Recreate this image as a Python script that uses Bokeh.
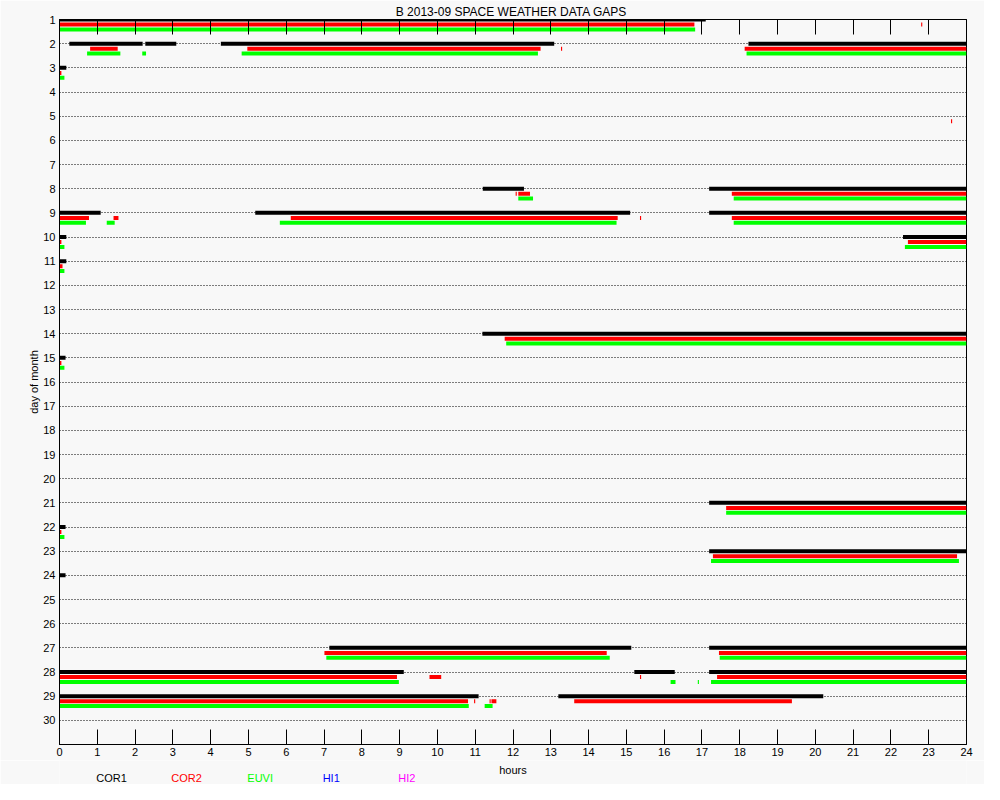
from bokeh.plotting import figure
from bokeh.models import Range1d, FixedTicker, LinearAxis, ColumnDataSource
from bokeh.layouts import column
from bokeh.core.properties import value
from bokeh.embed import file_html
from bokeh.resources import INLINE

# ---------------- data ----------------
days = list(range(1, 31))
hours = list(range(0, 25))

# COR1 gaps (black)
cor1_day = [1, 2, 2, 2, 2, 3, 8, 8, 9, 9, 9, 10, 10, 11, 14, 15, 21, 22, 23, 24,
            27, 27, 28, 28, 28, 29, 29]
cor1_start = [0.0, 0.26, 2.27, 4.27, 18.23, 0.0, 11.20, 17.19, 0.0, 5.18, 17.19, 0.0, 22.32, 0.0,
              11.19, 0.0, 17.19, 0.0, 17.19, 0.0, 7.14, 17.19, 0.0, 15.21, 17.19, 0.0, 13.20]
cor1_end = [17.10, 2.20, 3.09, 13.09, 24.0, 0.18, 12.29, 24.0, 1.09, 15.10, 24.0, 0.18, 24.0, 0.18,
            24.0, 0.16, 24.0, 0.16, 24.0, 0.16, 15.13, 24.0, 9.11, 16.28, 24.0, 11.09, 20.21]

# COR2 gaps (red)
cor2_day = [1, 1, 2, 2, 2, 2, 3, 5, 8, 8, 8, 9, 9, 9, 9, 9, 10, 10, 11, 14, 15, 21, 22, 23,
            27, 27, 28, 28, 28, 28, 29, 29, 29, 29, 29]
cor2_start = [0.0, 22.80, 0.81, 4.97, 13.27, 18.13, 0.0, 23.59, 12.07, 12.14, 17.79,
              0.0, 1.43, 6.12, 15.36, 17.79, 0.0, 22.45, 0.0, 11.78, 0.0, 17.64, 0.0, 17.29,
              7.01, 17.45, 0.0, 9.79, 15.36, 17.40, 0.0, 10.97, 11.38, 11.43, 13.62]
cor2_end = [16.80, 22.83, 1.54, 12.73, 13.30, 24.0, 0.05, 23.62, 12.10, 12.45, 24.0,
            0.78, 1.56, 14.77, 15.39, 24.0, 0.05, 24.0, 0.08, 24.0, 0.05, 24.0, 0.05, 23.75,
            14.48, 24.0, 8.93, 10.10, 15.39, 24.0, 10.81, 11.00, 11.41, 11.56, 19.38]

# EUVI gaps (green)
euvi_day = [1, 2, 2, 2, 2, 3, 8, 8, 9, 9, 9, 9, 10, 10, 11, 14, 15, 21, 22, 23,
            27, 27, 28, 28, 28, 28, 29, 29]
euvi_start = [0.0, 0.73, 2.19, 4.82, 18.18, 0.0, 12.14, 17.84, 0.0, 1.25, 5.83, 17.84,
              0.0, 22.37, 0.0, 11.82, 0.0, 17.64, 0.0, 17.24, 7.06, 17.47, 0.0, 16.17, 16.89,
              17.24, 0.0, 11.25]
euvi_end = [16.82, 1.61, 2.29, 12.66, 24.0, 0.13, 12.53, 24.0, 0.70, 1.46, 14.74, 24.0,
            0.13, 24.0, 0.13, 24.0, 0.13, 24.0, 0.13, 23.80, 14.56, 24.0, 8.98, 16.30, 16.92,
            24.0, 10.83, 11.46]

# HI1 / HI2: no gaps this month
hi1_day, hi1_start, hi1_end = [], [], []
hi2_day, hi2_start, hi2_end = [], [], []

legend_names = ["COR1", "COR2", "EUVI", "HI1", "HI2"]
legend_colors = ["#000000", "#ff0000", "#00ff00", "#0000ff", "#ff00ff"]

title_text = "B  2013-09 SPACE WEATHER DATA GAPS"
x_title = "hours"
y_title = "day of month"

# ---------------- layout ----------------
FONT = "Liberation Sans"
BG = "#f8f8f8"
W = 984
BL, BR = 59, 18
row_offsets = [0.0, 0.21, 0.41, 0.55, 0.65]   # vertical offset of each instrument inside a day row

p = figure(width=W, height=760,
           x_range=Range1d(0, 24), y_range=Range1d(31, 1),
           output_backend="svg", toolbar_location=None,
           min_border_left=BL, min_border_right=BR,
           min_border_top=19, min_border_bottom=16,
           background_fill_color=BG, border_fill_color=BG)

p.title.text = title_text
p.title.align = "center"
p.title.text_font = FONT
p.title.text_font_size = "12px"
p.title.text_font_style = "normal"
p.title.text_color = "black"
p.title.standoff = 2

p.outline_line_color = "black"
p.outline_line_width = 1
p.outline_line_alpha = 1.0

# bottom axis
xa = p.xaxis[0]
xa.ticker = FixedTicker(ticks=hours)
xa.major_tick_in = 15
xa.major_tick_out = 0
xa.minor_tick_in = 0
xa.minor_tick_out = 0
xa.major_label_standoff = 3
xa.major_label_text_font = FONT
xa.major_label_text_font_size = "11px"
xa.major_label_text_color = "black"
xa.axis_line_color = "black"
xa.major_tick_line_color = "black"

# top axis (ticks only, no labels)
top = LinearAxis(ticker=FixedTicker(ticks=hours), major_tick_in=15, major_tick_out=0,
                 minor_tick_in=0, minor_tick_out=0, major_label_standoff=0,
                 major_label_overrides={h: "" for h in hours},
                 axis_line_color="black", major_tick_line_color="black")
p.add_layout(top, "above")

# left axis
ya = p.yaxis[0]
ya.ticker = FixedTicker(ticks=days)
ya.major_tick_in = 0
ya.major_tick_out = 0
ya.minor_tick_in = 0
ya.minor_tick_out = 0
ya.major_label_standoff = 4
ya.major_label_text_font = FONT
ya.major_label_text_font_size = "11px"
ya.major_label_text_color = "black"
ya.axis_label = y_title
ya.axis_label_standoff = 0
ya.axis_label_text_font = FONT
ya.axis_label_text_font_size = "11px"
ya.axis_label_text_font_style = "normal"
ya.axis_label_text_color = "black"
ya.axis_line_color = "black"

p.xgrid.visible = False
p.ygrid.ticker = FixedTicker(ticks=days)
p.ygrid.grid_line_color = "black"
p.ygrid.grid_line_alpha = 1.0
p.ygrid.grid_line_dash = "1 2"
p.ygrid.grid_line_width = 1

series = [
    (cor1_day, cor1_start, cor1_end),
    (cor2_day, cor2_start, cor2_end),
    (euvi_day, euvi_start, euvi_end),
    (hi1_day, hi1_start, hi1_end),
    (hi2_day, hi2_start, hi2_end),
]
for (d, s, e), col, off in zip(series, legend_colors, row_offsets):
    src = ColumnDataSource(dict(y=[v + off for v in d], x0=s, x1=e))
    p.segment(x0="x0", y0="y", x1="x1", y1="y", source=src,
              line_color=col, line_width=4, line_cap="butt")

# ---- strip below: x-axis title and instrument colour key ----
key = figure(width=W, height=24, x_range=Range1d(0, 24), y_range=Range1d(0, 24),
             output_backend="svg", toolbar_location=None,
             x_axis_location=None, y_axis_location=None,
             min_border_left=BL, min_border_right=BR, min_border_top=0, min_border_bottom=0,
             background_fill_color=BG, border_fill_color=BG, outline_line_color=None)
key.grid.visible = False
key.text(x=[12.0], y=[15], text=[x_title], text_color="black",
         text_font=value(FONT), text_font_size="11px",
         text_align="center", text_baseline="middle")
legend_x = [1.38, 3.36, 5.31, 7.19, 9.19]
key.text(x=legend_x, y=[7] * len(legend_names), text=legend_names, text_color=legend_colors,
         text_font=value(FONT), text_font_size="11px",
         text_align="center", text_baseline="middle")

layout = column(p, key, spacing=0)
open("out.html", "w").write(file_html(layout, INLINE))
